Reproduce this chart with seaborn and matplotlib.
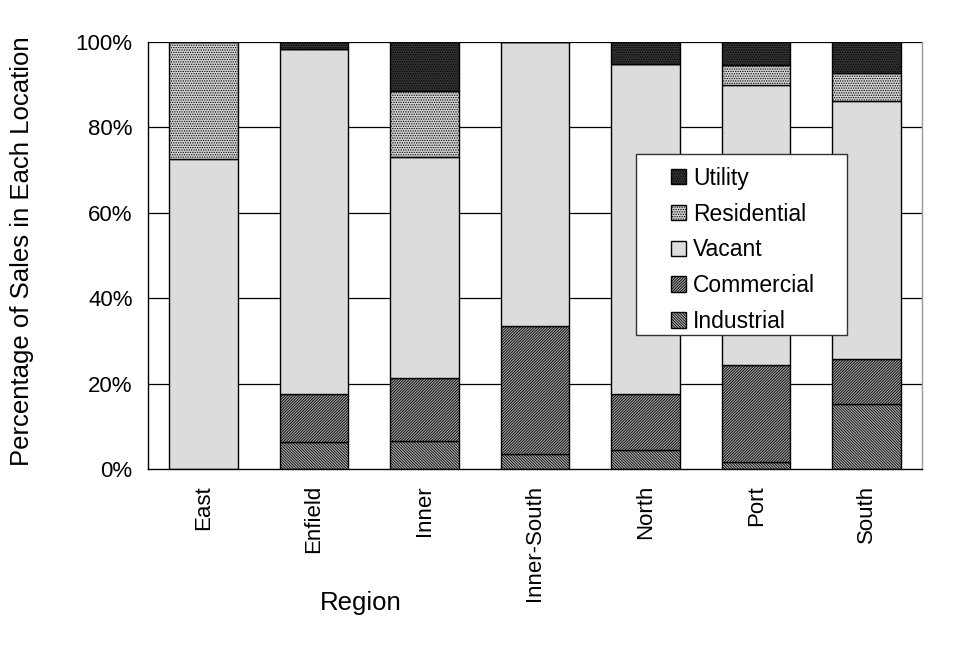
import numpy as np
import pandas as pd
import matplotlib
matplotlib.use("Agg")
import matplotlib.pyplot as plt
import seaborn as sns
from matplotlib.patches import Rectangle
from matplotlib.ticker import PercentFormatter, FixedLocator

# values (percent of sales in each region)
regions = ["East", "Enfield", "Inner", "Inner-South", "North", "Port", "South"]
industrial = [0.0, 6.3, 6.5, 3.5, 4.4, 1.6, 15.2]
commercial = [0.0, 11.2, 14.8, 30.1, 13.1, 22.7, 10.5]
vacant = [72.7, 80.9, 51.8, 66.4, 77.4, 65.7, 60.5]
residential = [27.3, 0.0, 15.5, 0.0, 0.0, 4.6, 6.6]
utility = [0.0, 1.6, 11.4, 0.0, 5.1, 5.4, 7.2]

categories = ["Industrial", "Commercial", "Vacant", "Residential", "Utility"]
series = [industrial, commercial, vacant, residential, utility]
face_colors = ["#b4b4b4", "#a4a4a4", "#dcdcdc", "#d2d2d2", "#333333"]
hatches = ["\\" * 12, "/" * 12, "", "." * 7, "." * 7]

sns.set_style("white")
plt.rcParams["font.family"] = ["Liberation Sans", "DejaVu Sans"]
plt.rcParams["hatch.linewidth"] = 0.6
for key in ["text.color", "axes.labelcolor", "xtick.color", "ytick.color"]:
    plt.rcParams[key] = "black"

fig = plt.figure(figsize=(9.65, 6.7), dpi=100)
ax = fig.add_axes([148 / 965, 1 - 469 / 670, 774 / 965, 427 / 670])

# horizontal gridlines behind the bars
for yv in [20, 40, 60, 80, 100]:
    ax.axhline(yv, color="black", lw=0.9, zorder=0)

bottom = np.zeros(len(regions))
for name, vals, fc, h in zip(categories, series, face_colors, hatches):
    df = pd.DataFrame({"Region": regions, "Pct": vals})
    sns.barplot(data=df, x="Region", y="Pct", color=fc, saturation=1,
                width=0.62, edgecolor="black", linewidth=1.0, hatch=h,
                bottom=bottom, errorbar=None, label=name, ax=ax, zorder=2)
    bottom = bottom + np.array(vals)

ax.set_xlim(-0.5, len(regions) - 0.5)
ax.set_ylim(0, 100)
ax.yaxis.set_major_locator(FixedLocator([0, 20, 40, 60, 80, 100]))
ax.yaxis.set_major_formatter(PercentFormatter(xmax=100, decimals=0))

# tick marks at category boundaries, labels at centres
ax.set_xticks(np.arange(len(regions)))
ax.set_xticklabels(regions, rotation=90, fontsize=16, va="top")
ax.set_xticks(np.arange(len(regions) + 1) - 0.5, minor=True)
ax.tick_params(axis="x", which="major", length=0, pad=11.5)
ax.tick_params(axis="x", which="minor", length=10, direction="inout",
               width=0.9, color="black")
ax.tick_params(axis="y", which="major", length=10, direction="inout",
               width=0.9, color="black", labelsize=16, pad=6)

for side in ["left", "bottom"]:
    ax.spines[side].set_color("black")
    ax.spines[side].set_linewidth(1.0)
ax.spines["top"].set_visible(False)
ax.spines["right"].set_color("#999999")
ax.spines["right"].set_linewidth(1.0)

ax.set_xlabel("Region", fontsize=18.5)
ax.xaxis.set_label_coords(0.275, -0.285)
ax.set_ylabel("Percentage of Sales in Each Location", fontsize=18.5)
ax.yaxis.set_label_coords(-0.147, 0.51)

# legend box drawn separately so its padding can match the reference
ax.add_patch(Rectangle((0.6305, 0.3138), 0.2726, 0.4239, transform=ax.transAxes,
                       facecolor="white", edgecolor="#333333", lw=1.0,
                       zorder=5, clip_on=False))
handles, labels = ax.get_legend_handles_labels()
leg = ax.legend(handles[::-1], labels[::-1], loc="upper left",
                bbox_to_anchor=(0.6757, 0.708), fontsize=16.5, frameon=False,
                handlelength=0.65, handleheight=0.65, handletextpad=0.3,
                labelspacing=0.56, borderpad=0, borderaxespad=0)
leg.set_zorder(6)

fig.savefig("out.png", dpi=100)
